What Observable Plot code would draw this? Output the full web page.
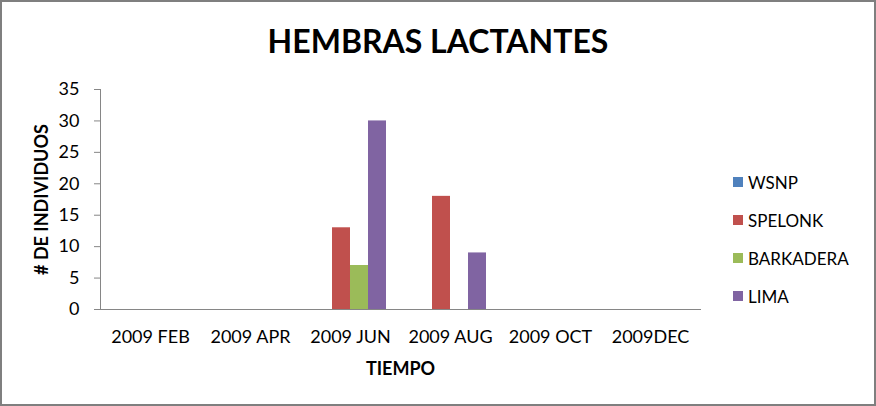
<!DOCTYPE html>
<html><head><meta charset="utf-8">
<script src="https://cdn.jsdelivr.net/npm/d3@7"></script>
<script src="https://cdn.jsdelivr.net/npm/@observablehq/plot@0.6"></script>
<style>
body{margin:0;background:#fff;}
#chart{position:relative;width:876px;height:406px;box-sizing:border-box;border:2px solid #7f7f7f;background:#fff;font-family:Lato,"Open Sans",sans-serif;overflow:hidden;}
#title{position:absolute;left:0;right:0;top:23px;text-align:center;font-weight:bold;font-size:32px;line-height:32px;color:#000;}
#plot{position:absolute;left:0;top:73px;}
#legend{position:absolute;left:731px;top:161px;}
.item{display:flex;align-items:center;height:38px;font-size:17px;color:#000;}
.sw{width:10px;height:10px;margin-right:5px;flex:none;}
</style></head>
<body><div id="chart"><div id="title"></div><div id="plot"></div><div id="legend"></div></div>
<script>
const chartTitle = "HEMBRAS LACTANTES";
const months = ["2009 FEB", "2009 APR", "2009 JUN", "2009 AUG", "2009 OCT", "2009DEC"];
const seriesNames = ["WSNP", "SPELONK", "BARKADERA", "LIMA"];
const seriesColors = ["#4F81BD", "#C0504D", "#9BBB59", "#8064A2"];
const wsnp = [0, 0, 0, 0, 0, 0];
const spelonk = [0, 0, 13, 18, 0, 0];
const barkadera = [0, 0, 7, 0, 0, 0];
const lima = [0, 0, 30, 9, 0, 0];
const yTicks = [0, 5, 10, 15, 20, 25, 30, 35];
const yLabel = "# DE INDIVIDUOS";
const xLabel = "TIEMPO";

const seriesValues = [wsnp, spelonk, barkadera, lima];
const rows = [];
months.forEach((m, i) => seriesNames.forEach((s, j) => rows.push({month: m, series: s, value: seriesValues[j][i]})));

document.getElementById("title").textContent = chartTitle;

const axisColor = "#868686";
const plot = Plot.plot({
  width: 718,
  height: 329,
  marginLeft: 98,
  marginRight: 20,
  marginTop: 14,
  marginBottom: 95,
  style: {fontFamily: "Lato, 'Open Sans', sans-serif", fontSize: "18px", color: "#000", background: "transparent"},
  fx: {domain: months, padding: 0, label: null},
  x: {domain: seriesNames, paddingInner: 0, paddingOuter: 14 / 18, axis: null},
  y: {domain: [0, 35], label: null},
  color: {domain: seriesNames, range: seriesColors},
  marks: [
    Plot.barY(rows, {fx: "month", x: "series", y: "value", fill: "series"}),
    Plot.frame({anchor: "bottom", stroke: axisColor, facet: "super"}),
    Plot.frame({anchor: "left", stroke: axisColor, facet: "super"}),
    Plot.axisY({ticks: yTicks, tickSize: 6, tickPadding: 15, stroke: axisColor, fill: "#000", label: null}),
    Plot.axisY({ticks: yTicks, tickSize: 0, tickFormat: () => "", stroke: "none", fill: "#000",
      label: yLabel, labelAnchor: "center", labelArrow: "none", labelOffset: 65, fontWeight: "bold"}),
    Plot.axisFx({anchor: "bottom", tickSize: 0, tickPadding: 21, fill: "#000", label: null}),
    Plot.text([xLabel], {frameAnchor: "bottom", dy: 65, fontWeight: "bold", fontSize: 18, fill: "#000", facet: "super"})
  ]
});
document.getElementById("plot").appendChild(plot);

const legend = document.getElementById("legend");
seriesNames.forEach((s, i) => {
  const item = document.createElement("div");
  item.className = "item";
  const sw = document.createElement("span");
  sw.className = "sw";
  sw.style.background = seriesColors[i];
  const label = document.createElement("span");
  label.textContent = s;
  item.appendChild(sw);
  item.appendChild(label);
  legend.appendChild(item);
});
</script>
</body></html>
